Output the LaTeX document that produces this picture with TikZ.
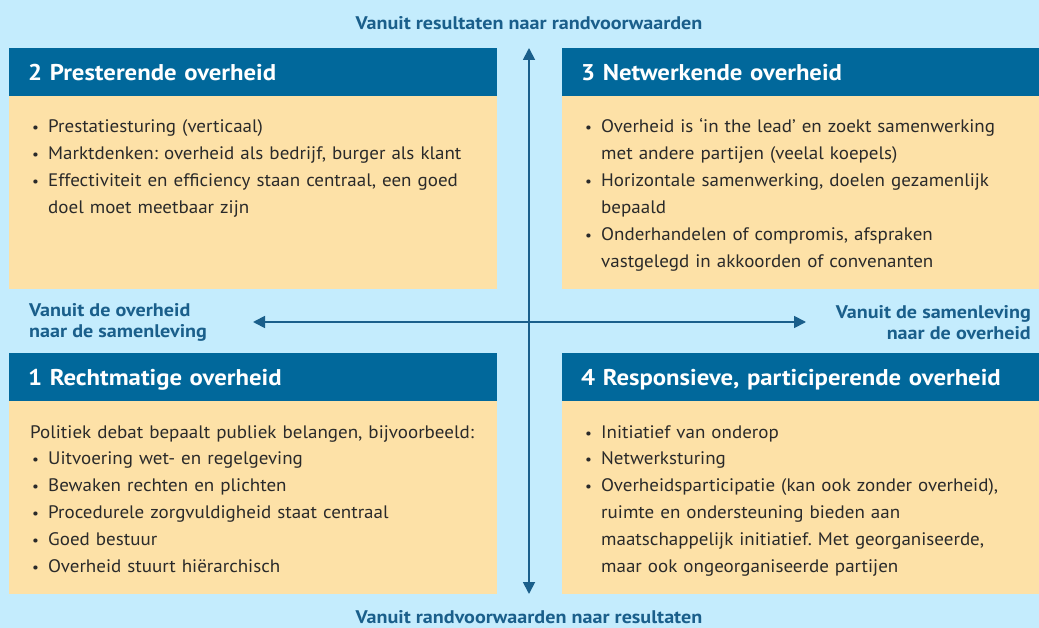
\documentclass[tikz,border=0pt]{standalone}
\usepackage{fontspec}
\setmainfont{PT Sans}[FakeStretch=1.05]
\newfontfamily\headfont{PT Sans}[FakeStretch=1.085]
\newfontfamily\lblfont{PT Sans}[FakeStretch=1.1]
\usetikzlibrary{arrows.meta}
\definecolor{bgblue}{HTML}{C4ECFD}
\definecolor{headblue}{HTML}{01689B}
\definecolor{bodyor}{HTML}{FDE1A7}
\definecolor{lblblue}{HTML}{1A5F8B}
\definecolor{txtdark}{HTML}{2A2A2A}
\frenchspacing
\newcommand{\lbr}{\hfil\break}
\newcommand{\bitem}[1]{\noindent\hangindent=16bp\hangafter=1\makebox[16bp][l]{\scalebox{0.8}{\textbullet}}#1\par}
\tikzset{
  headbox/.style={fill=headblue, text=white, inner xsep=19bp, inner ysep=0pt, minimum height=48bp, align=left,
    text height=18bp, text depth=2bp,
    font=\headfont\bfseries\fontsize{22.8bp}{26bp}\selectfont, anchor=north west},
  bodybox/.style={fill=bodyor, inner sep=0pt, anchor=north west},
  bodytext/.style={inner sep=0pt, anchor=base west, text=txtdark,
    font=\fontsize{18.1bp}{26.9bp}\selectfont\raggedright\frenchspacing},
  axislabel/.style={inner sep=0pt, text=lblblue, font=\lblfont\bfseries\fontsize{18.3bp}{20.5bp}\selectfont},
  axis/.style={draw=lblblue, line width=1.8bp, {Triangle[length=12bp,width=12bp]}-{Triangle[length=12bp,width=12bp]}}
}
\begin{document}
\begin{tikzpicture}[x=1bp,y=-1bp]
\fill[bgblue] (0,0) rectangle (1039,628);
\useasboundingbox (0,0) rectangle (1039,628);

% quadrant 2
\node[headbox, text width=450bp] (h2) at (9,48) {2 Presterende overheid};
\node[bodybox, minimum width=488bp, minimum height=193bp] (b2) at (9,96) {};
\node[bodytext, text width=460bp] (t2) at (32,133) {%
\bitem{Prestatiesturing (verticaal)}
\bitem{Marktdenken: overheid als bedrijf, burger als klant}
\bitem{Effectiviteit en efficiency staan centraal, een goed\lbr doel moet meetbaar zijn}};

% quadrant 3
\node[headbox, text width=439bp] (h3) at (562,48) {3 Netwerkende overheid};
\node[bodybox, minimum width=477bp, minimum height=193bp] (b3) at (562,96) {};
\node[bodytext, text width=450bp] (t3) at (585,133) {%
\bitem{Overheid is ‘in the lead’ en zoekt samenwerking\lbr met andere partijen (veelal koepels)}
\bitem{Horizontale samenwerking, doelen gezamenlijk\lbr bepaald}
\bitem{Onderhandelen of compromis, afspraken\lbr vastgelegd in akkoorden of convenanten}};

% quadrant 1
\node[headbox, text width=450bp] (h1) at (9,353) {1 Rechtmatige overheid};
\node[bodybox, minimum width=488bp, minimum height=193bp] (b1) at (9,401) {};
\node[bodytext, text width=470bp] (t1) at (30,438) {%
\noindent Politiek debat bepaalt publiek belangen, bijvoorbeeld:\par
\leftskip=2bp
\bitem{Uitvoering wet- en regelgeving}
\bitem{Bewaken rechten en plichten}
\bitem{Procedurele zorgvuldigheid staat centraal}
\bitem{Goed bestuur}
\bitem{Overheid stuurt hiërarchisch}};

% quadrant 4
\node[headbox, text width=439bp] (h4) at (562,353) {4 Responsieve, participerende overheid};
\node[bodybox, minimum width=477bp, minimum height=193bp] (b4) at (562,401) {};
\node[bodytext, text width=450bp] (t4) at (585,438) {%
\bitem{Initiatief van onderop}
\bitem{Netwerksturing}
\bitem{Overheidsparticipatie (kan ook zonder overheid),\lbr ruimte en ondersteuning bieden aan\lbr maatschappelijk initiatief. Met georganiseerde,\lbr maar ook ongeorganiseerde partijen}};

% axes
\coordinate (vtop) at (529,48);
\coordinate (vbot) at (529,594);
\coordinate (hleft) at (253,322);
\coordinate (hright) at (806,322);
\draw[axis] (vbot) -- (vtop);
\draw[axis] (hleft) -- (hright);

% axis labels
\node[axislabel] (ltop) at (529,23) {Vanuit resultaten naar randvoorwaarden};
\node[axislabel] (lbot) at (529,617) {Vanuit randvoorwaarden naar resultaten};
\node[axislabel, align=left, anchor=west] (lleft) at (29,322.5) {Vanuit de overheid\\naar de samenleving};
\node[axislabel, align=right, anchor=east] (lright) at (1031,322.5) {Vanuit de samenleving\\naar de overheid};
\end{tikzpicture}
\end{document}
